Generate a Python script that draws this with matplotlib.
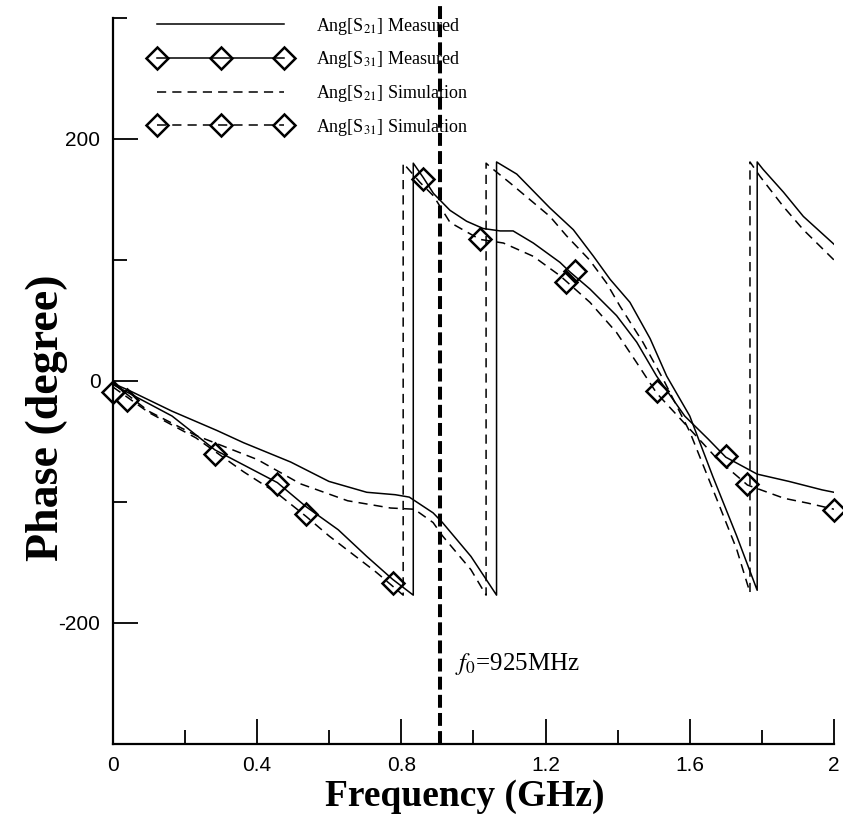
import numpy as np
import matplotlib
matplotlib.use('Agg')
import matplotlib.pyplot as plt
from matplotlib.lines import Line2D
from matplotlib.ticker import MultipleLocator, FixedLocator

plt.rcParams['mathtext.fontset'] = 'stix'
plt.rcParams['font.family'] = ['Liberation Serif', 'DejaVu Serif']

# Ang[S21] measured (solid), phase wraps at +-180
f_s21_meas = [0, 0.046, 0.164, 0.289, 0.362, 0.493, 0.599, 0.704, 0.783, 0.822, 0.888, 0.914, 0.993, 1.064,
              1.064, 1.12, 1.212, 1.277, 1.333, 1.379, 1.434, 1.49, 1.536, 1.60, 1.664, 1.73, 1.787,
              1.787, 1.803, 1.86, 1.915, 2.0]
p_s21_meas = [-2, -8, -25, -41, -51, -67, -83, -92, -94, -96, -109, -117, -145, -177,
              181, 171, 143, 125, 103, 84, 65, 35, 4, -29, -79, -128, -173,
              181, 175, 156, 136, 113]

# Ang[S21] simulation (dashed)
f_s21_sim = [0, 0.099, 0.23, 0.401, 0.52, 0.651, 0.77, 0.836, 0.888, 0.914, 0.993, 1.035,
             1.035, 1.046, 1.10, 1.212, 1.258, 1.322, 1.369, 1.406, 1.47, 1.527, 1.60, 1.678, 1.73, 1.767,
             1.767, 1.795, 1.86, 1.915, 2.0]
p_s21_sim = [-2, -25, -45, -65, -85, -99, -105, -106, -117, -128, -156, -177,
             180, 177, 164, 136, 120, 100, 81, 62, 32, 1, -42, -100, -139, -175,
             181, 169, 144, 125, 100]

# Ang[S31] measured (solid + diamonds)
f_s31_meas = [0, 0.164, 0.283, 0.456, 0.536, 0.625, 0.704, 0.776, 0.833,
              0.833, 0.861, 0.889, 0.935, 0.981, 1.027, 1.074, 1.11, 1.166, 1.24, 1.268, 1.323, 1.397,
              1.453, 1.508, 1.586, 1.651, 1.70, 1.787, 1.875, 1.967, 2.0]
p_s31_meas = [-3, -29, -57, -84, -104, -123, -145, -164, -177,
              180, 168, 155, 141, 132, 126, 124, 124, 114, 98, 90, 76, 54,
              32, 4, -29, -48, -63, -77, -83, -90, -92]
f_s31_meas_mk = [0, 0.283, 0.456, 0.776, 0.861, 1.281, 1.70]
p_s31_meas_mk = [-9, -60, -85, -167, 167, 91, -62]

# Ang[S31] simulation (dashed + diamonds)
f_s31_sim = [0, 0.099, 0.23, 0.362, 0.456, 0.536, 0.599, 0.73, 0.805,
             0.805, 0.852, 0.889, 0.935, 1.018, 1.083, 1.166, 1.24, 1.323, 1.397, 1.453, 1.508,
             1.61, 1.678, 1.76, 1.862, 1.928, 2.0]
p_s31_sim = [-5, -26, -47, -75, -93, -112, -128, -158, -177,
             180, 164, 153, 131, 117, 114, 103, 87, 65, 40, 15, -10,
             -43, -65, -86, -97, -101, -106]
f_s31_sim_mk = [0.04, 0.536, 1.018, 1.258, 1.508, 1.76, 2.0]
p_s31_sim_mk = [-16, -110, 117, 82, -8, -85, -107]

f0 = 0.906
f0_label = r'$f_{\mathit{0}}$=925MHz'

x_major = [0, 0.4, 0.8, 1.2, 1.6, 2.0]
x_labels = ['0', '0.4', '0.8', '1.2', '1.6', '2']
y_major = [-200, 0, 200]
y_labels = ['-200', '0', '200']

leg_labels = [r'Ang[S$_{21}$] Measured', r'Ang[S$_{31}$] Measured',
              r'Ang[S$_{21}$] Simulation', r'Ang[S$_{31}$] Simulation']

fig = plt.figure(figsize=(8.43, 8.17), dpi=100)
ax = fig.add_axes([0.134, 0.0894, 0.8553, 0.8886])

lw = 1.1
dash = (0, (6, 4))
mk = dict(marker='D', ms=11.5, mfc='none', mec='k', mew=1.8, ls='none')

ax.plot(f_s21_meas, p_s21_meas, color='k', lw=lw)
ax.plot(f_s21_sim, p_s21_sim, color='k', lw=lw, ls=dash)
ax.plot(f_s31_meas, p_s31_meas, color='k', lw=lw)
ax.plot(f_s31_sim, p_s31_sim, color='k', lw=lw, ls=dash)
ax.plot(f_s31_meas_mk, p_s31_meas_mk, clip_on=False, **mk)
ax.plot(f_s31_sim_mk, p_s31_sim_mk, clip_on=False, **mk)

ax.vlines(f0, -300, 311, colors='k', lw=2.9, linestyles=[(0, (3.2, 1.3))], clip_on=False)
ax.text(f0 + 0.044, -234, f0_label, fontsize=18, va='center', ha='left')

ax.set_xlim(0, 2)
ax.set_ylim(-300, 300)
for s in ['top', 'right']:
	ax.spines[s].set_visible(False)
for s in ['left', 'bottom']:
	ax.spines[s].set_linewidth(1.6)

ax.xaxis.set_major_locator(FixedLocator(x_major))
ax.xaxis.set_minor_locator(MultipleLocator(0.2))
ax.yaxis.set_major_locator(FixedLocator(y_major))
ax.yaxis.set_minor_locator(MultipleLocator(100))
ax.set_xticklabels(x_labels, family='Liberation Sans', fontsize=15)
ax.set_yticklabels(y_labels, family='Liberation Sans', fontsize=15)
ax.tick_params(which='major', direction='in', length=18, width=1.3, pad=9)
ax.tick_params(which='minor', direction='in', length=10, width=1.3)

ax.text(0.488, -0.073, 'Frequency (GHz)', transform=ax.transAxes, fontsize=27,
        fontweight='bold', ha='center', va='center')
ax.text(-0.0915, 0.449, 'Phase (degree)', transform=ax.transAxes, fontsize=33,
        fontweight='bold', ha='center', va='center', rotation=90)

handles = [
	Line2D([], [], color='k', lw=lw),
	Line2D([], [], color='k', lw=lw, marker='D', ms=11.5, mfc='none', mec='k', mew=1.8),
	Line2D([], [], color='k', lw=lw, ls=dash),
	Line2D([], [], color='k', lw=lw, ls=dash, marker='D', ms=11.5, mfc='none', mec='k', mew=1.8),
]
ax.legend(handles, leg_labels, loc='upper left', bbox_to_anchor=(0.054, 1.003), frameon=False,
          numpoints=3, handlelength=7.6, handletextpad=1.5, labelspacing=0.7,
          borderpad=0, borderaxespad=0, prop={'family': 'Liberation Serif', 'size': 13})

fig.savefig('out.png', dpi=100)
